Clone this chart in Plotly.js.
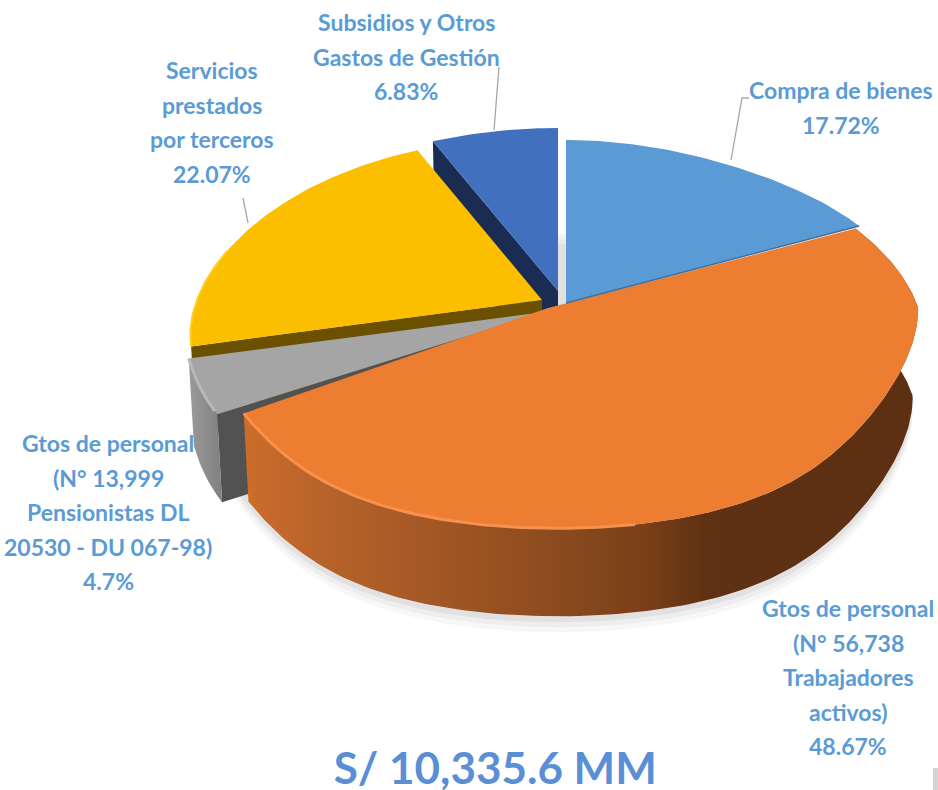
<!DOCTYPE html>
<html><head><meta charset="utf-8">
<script src="https://cdn.plot.ly/plotly-3.0.1.min.js"></script>
<style>html,body{margin:0;padding:0;background:#fff}#c{width:938px;height:790px}</style>
</head><body><div id="c"></div>
<script>
// ---- data ----
const categories = ["Compra de bienes","Gtos de personal (N° 56,738 Trabajadores activos)","Gtos de personal (N° 13,999 Pensionistas DL 20530 - DU 067-98)","Servicios prestados por terceros","Subsidios y Otros Gastos de Gestión"];
const shares = [17.72,48.67,4.7,22.07,6.83];
const labelTexts = ["Compra de bienes|17.72%","Gtos de personal|(N° 56,738|Trabajadores|activos)|48.67%","Gtos de personal|(N° 13,999|Pensionistas DL|20530 - DU 067-98)|4.7%","Servicios|prestados|por terceros|22.07%","Subsidios y Otros|Gastos de Gestión|6.83%"];
const totalLabel = "S/ 10,335.6 MM";

// ---- styles and layout of the drawing ----
const topColors = ["#5b9bd5","#ed7d31","#a5a5a5","#fcbf00","#4170bf"];
const cutColors = ["#dfe3e8","#8f4a1c","#525252","#6b5000","#1a2c52"];
const wallStops = [
  [[0,"#4a7fae"],[1,"#2f5d85"]],
  [[0,"#cc6d2a"],[0.115,"#b8632a"],[0.475,"#8a4a1e"],[0.595,"#7a3f18"],[0.685,"#5f3113"],[1,"#5e3013"]],
  [[0,"#9a9a9a"],[1,"#808080"]],
  [[0,"#8f6d00"],[1,"#8f6d00"]],
  [[0,"#1a2c52"],[1,"#1a2c52"]]
];
const apexX = [566,548,544,542,558], apexY = [303,308,312,300,291];
const rimShift = [0,10,0,0,0];
const widen = [0.94,0.995,1,0.953,1], tilt = [0,0,0,0.2,0], ryScale = [1,1.03,1,1,1];
const frontPinch = [0.1,-0.25,-0.2,0,0.1], frontPower = [2,4,2,2,2];
const backPinch = [0.205,0.18,0.205,-0.06,0.205], backPower = [2,1,2,2,2];
const RX = 362, RY = 185, PERSP = 0.135, DEPTH = 88, LINE_STEP = 34.6;
const labelX = [841,848,108,212,406], labelY = [90,608,443,70,22];

function P(deg,r,i,drop){
  const a = deg*Math.PI/180, u = r*Math.sin(a), v = -r*Math.cos(a);
  const pinch = v<0 ? backPinch[i]*Math.pow(-v,backPower[i]) : frontPinch[i]*Math.pow(v,frontPower[i]);
  const rx = RX*widen[i]*(1+tilt[i]*v-pinch)*(drop?0.985:1);
  return [apexX[i]+rimShift[i]*r+rx*u, apexY[i]+RY*ryScale[i]*v/(1-PERSP*v)+drop];
}
const total = shares.reduce((s,x)=>s+x,0);
const starts=[]; let acc=0; shares.forEach(s=>{starts.push(acc); acc+=s/total*360;});
function arc(i,d0,d1,drop){
  const pts=[], n=Math.max(2,Math.ceil(Math.abs(d1-d0)));
  for(let k=0;k<=n;k++) pts.push(P(d0+(d1-d0)*k/n,1,i,drop));
  return pts;
}
function poly(pts,name,fill,extra){
  return Object.assign({type:"scatter",mode:"lines",x:pts.map(p=>p[0]),y:pts.map(p=>p[1]),
    fill:"toself",fillcolor:fill,line:{width:0},name:name,hoverinfo:"name",showlegend:false},extra||{});
}
const traces=[];
// soft shadow under the disc
[[16,"rgba(0,0,0,0.03)"],[11,"rgba(0,0,0,0.035)"],[6,"rgba(0,0,0,0.05)"]].forEach(([grow,c])=>{
  traces.push(poly(arc(1,0,360,DEPTH+grow),"sombra",c,{hoverinfo:"skip"}));
});
function wall(i){
  const d0=starts[i], d1=d0+shares[i]/total*360;
  const pts=arc(i,d0,d1,0).concat(arc(i,d1,d0,DEPTH));
  const xs=pts.map(p=>p[0]);
  traces.push(poly(pts,categories[i],wallStops[i][0][1],{fillgradient:{type:"horizontal",
    colorscale:wallStops[i],start:Math.min(...xs),stop:Math.max(...xs)}}));
}
function cut(i,deg){
  traces.push(poly([P(deg,1,i,0),P(deg,1,i,DEPTH),P(deg,0,i,DEPTH),P(deg,0,i,0)],categories[i],cutColors[i]));
}
function face(i){
  const d0=starts[i], d1=d0+shares[i]/total*360;
  const o=P(0,0,i,0);
  traces.push(poly([o].concat(arc(i,d0,d1,0)).concat([o]),categories[i],topColors[i]));
}
function rim(i,d0,d1,color,w){
  const pts=arc(i,d0,d1,0);
  traces.push({type:"scatter",mode:"lines",x:pts.map(p=>p[0]),y:pts.map(p=>p[1]),line:{color:color,width:w},hoverinfo:"skip",showlegend:false});
}
function edge(i,deg,color,w){
  const pts=[P(deg,0,i,0),P(deg,1,i,0)];
  traces.push({type:"scatter",mode:"lines",x:pts.map(p=>p[0]),y:pts.map(p=>p[1]),line:{color:color,width:w},hoverinfo:"skip",showlegend:false});
}
// back to front
cut(4,0); cut(4,starts[4]); face(4);
cut(0,0); face(0);
cut(3,starts[3]); face(3);
rim(3,starts[3],starts[3]+30,"#ffcf26",2);
cut(2,starts[2]); wall(2); face(2);
rim(2,starts[2]+1,starts[3],"#b8b8b8",3);
wall(1); face(1);
rim(1,170,starts[2],"#f6924f",3);
edge(0,starts[1],"#3f6f9f",1.5);

const grey="#a6a6a6";
const leaderX=[[731,742,749],[494,499],[243,248]], leaderY=[[160,98,98],[130,67],[198,223]];
leaderX.forEach((xs,k)=>traces.push({type:"scatter",mode:"lines",x:xs,y:leaderY[k],line:{color:grey,width:1.3},hoverinfo:"skip",showlegend:false}));

const font={family:"'Lato',sans-serif",size:23,color:"#5b9bd5"};
const annotations=[];
labelTexts.forEach((t,i)=>t.split("|").forEach((line,k)=>annotations.push({text:"<b>"+line+"</b>",x:labelX[i],y:labelY[i]+k*LINE_STEP,xref:"x",yref:"y",showarrow:false,align:"center",xanchor:"center",yanchor:"middle",font:font})));
const layout={width:938,height:790,margin:{l:0,r:0,t:0,b:0,pad:0},paper_bgcolor:"#fff",plot_bgcolor:"#fff",showlegend:false,
  title:{text:"<b>"+totalLabel+"</b>",x:0.528,xanchor:"center",xref:"paper",y:0.027,yanchor:"middle",yref:"container",font:{family:"'Lato',sans-serif",size:44,color:"#5a8fd6"}},
  xaxis:{range:[0,938],visible:false,fixedrange:true},
  yaxis:{range:[790,0],visible:false,fixedrange:true},
  shapes:[{type:"rect",xref:"x",yref:"y",x0:933,x1:938,y0:768,y1:790,fillcolor:"#d4d4d4",line:{width:0},layer:"below"}],
  annotations:annotations};
Plotly.newPlot("c",traces,layout,{displayModeBar:false,responsive:false});
</script></body></html>
